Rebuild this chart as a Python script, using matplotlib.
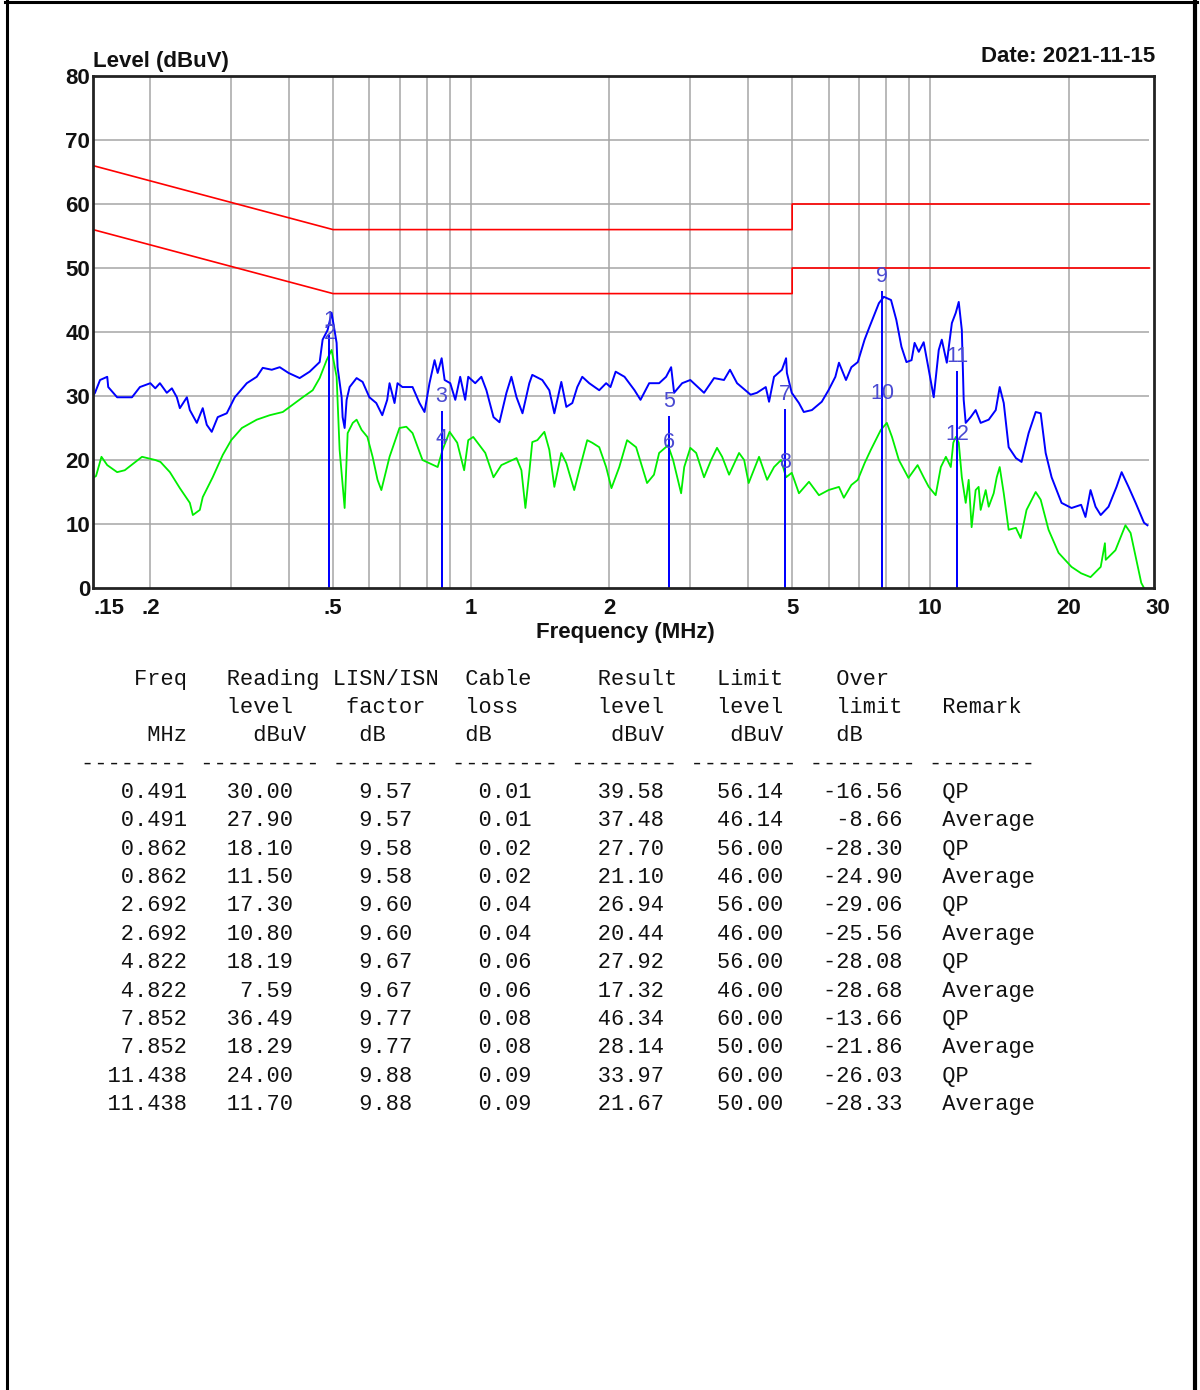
import matplotlib
matplotlib.use("Agg")
import matplotlib.pyplot as plt
from matplotlib.lines import Line2D
from matplotlib.ticker import NullLocator
import matplotlib.transforms as mtrans

# ---------------- data ----------------
peak_freq = [0.150, 0.1515, 0.1554, 0.1611, 0.1619, 0.1693, 0.1824, 0.1898, 0.200, 0.205, 0.2098,
             0.2172, 0.2228, 0.2284, 0.2319, 0.2402, 0.2438, 0.2525, 0.2601, 0.2654, 0.2721,
             0.2804, 0.2934, 0.3054, 0.3244, 0.3410, 0.3514, 0.3677, 0.3827, 0.400, 0.4229,
             0.4446, 0.4675, 0.4745, 0.4865, 0.4964, 0.509, 0.5115, 0.522, 0.5246, 0.5299,
             0.5352, 0.5433, 0.5627, 0.5799, 0.600, 0.621, 0.640, 0.656, 0.6638, 0.6806,
             0.6909, 0.708, 0.745, 0.7714, 0.791, 0.811, 0.832, 0.845, 0.862, 0.875, 0.900,
             0.923, 0.946, 0.970, 0.985, 1.020, 1.052, 1.079, 1.118, 1.152, 1.193, 1.223,
             1.255, 1.293, 1.338, 1.358, 1.428, 1.479, 1.517, 1.571, 1.611, 1.660, 1.702,
             1.745, 1.807, 1.900, 1.967, 2.010, 2.063, 2.157, 2.268, 2.337, 2.441, 2.566,
             2.657, 2.725, 2.766, 2.880, 3.00, 3.214, 3.380, 3.552, 3.661, 3.793, 4.06,
             4.19, 4.38, 4.453, 4.566, 4.75, 4.85, 4.87, 4.99, 5.173, 5.30, 5.52, 5.80,
             6.00, 6.21, 6.323, 6.55, 6.73, 6.95, 7.19, 7.37, 7.725, 7.92, 8.21, 8.43,
             8.65, 8.87, 9.10, 9.24, 9.436, 9.67, 9.92, 10.17, 10.43, 10.59, 10.86, 11.14,
             11.36, 11.53, 11.71, 11.82, 11.94, 12.24, 12.55, 12.87, 13.40, 13.88, 14.16,
             14.45, 14.81, 15.36, 15.80, 16.37, 16.96, 17.39, 17.83, 18.37, 19.31, 20.3,
             21.3, 21.77, 22.33, 22.9, 23.5, 24.44, 25.44, 26.1, 27.02, 28.0, 29.2, 29.7]
peak_level = [30.0, 30.5, 32.5, 33.0, 31.4, 29.8, 29.8, 31.4, 32.0, 31.2, 32.0,
              30.5, 31.2, 29.8, 28.1, 29.8, 27.8, 25.8, 28.1, 25.5, 24.4,
              26.7, 27.3, 29.8, 32.0, 33.0, 34.4, 34.1, 34.5, 33.6, 32.8,
              33.8, 35.3, 38.8, 40.3, 43.0, 38.3, 34.5, 29.8, 26.7, 25.0,
              29.4, 31.4, 32.8, 32.2, 29.8, 28.9, 27.0, 29.4, 32.0, 28.9,
              32.0, 31.4, 31.4, 28.9, 27.5, 32.0, 35.6, 33.6, 35.9, 32.5, 32.0,
              29.4, 33.0, 29.4, 33.0, 32.0, 33.0, 30.9, 26.7, 25.9, 30.5, 33.0,
              29.8, 27.3, 32.0, 33.3, 32.5, 30.9, 27.3, 32.2, 28.3, 28.9, 31.4,
              33.0, 32.0, 30.9, 32.0, 31.4, 33.8, 33.0, 30.9, 29.4, 32.0, 32.0,
              33.0, 34.5, 30.5, 32.0, 32.5, 30.5, 32.8, 32.5, 34.1, 32.0, 30.2,
              30.5, 31.4, 29.1, 33.0, 34.1, 35.9, 33.6, 30.5, 28.9, 27.5, 27.8, 29.1,
              30.9, 33.0, 35.2, 32.5, 34.5, 35.3, 38.8, 40.8, 44.5, 45.5, 45.0, 41.9,
              37.7, 35.3, 35.6, 38.3, 36.9, 38.4, 34.1, 29.8, 37.2, 38.8, 35.2, 41.4,
              43.0, 44.7, 40.3, 29.4, 25.8, 26.7, 27.8, 25.8, 26.3, 27.8, 31.4,
              28.9, 22.0, 20.3, 19.7, 24.2, 27.5, 27.3, 21.1, 17.3, 13.3, 12.5,
              13.0, 11.1, 15.3, 12.7, 11.4, 12.7, 15.8, 18.1, 15.8, 13.3, 10.2, 9.8]

avg_freq = [0.150, 0.1523, 0.1565, 0.1611, 0.1693, 0.1759, 0.1918, 0.2050, 0.2104, 0.2206,
            0.2319, 0.2438, 0.2475, 0.2563, 0.2601, 0.2734, 0.2876, 0.300, 0.3165, 0.341,
            0.364, 0.3886, 0.4075, 0.4295, 0.4515, 0.4675, 0.4842, 0.4964, 0.509, 0.5167,
            0.5299, 0.538, 0.552, 0.5627, 0.577, 0.594, 0.6097, 0.625, 0.637, 0.6638,
            0.6976, 0.722, 0.745, 0.783, 0.811, 0.845, 0.866, 0.897, 0.932, 0.965, 0.985,
            1.010, 1.073, 1.118, 1.163, 1.255, 1.286, 1.312, 1.338, 1.358, 1.393, 1.443,
            1.479, 1.517, 1.571, 1.611, 1.676, 1.719, 1.789, 1.834, 1.900, 1.967, 2.020,
            2.101, 2.185, 2.286, 2.415, 2.50, 2.566, 2.683, 2.752, 2.865, 2.91, 3.00,
            3.09, 3.214, 3.33, 3.43, 3.52, 3.644, 3.831, 3.93, 4.02, 4.235, 4.41, 4.566,
            4.73, 4.85, 4.99, 5.173, 5.44, 5.719, 6.00, 6.323, 6.48, 6.73, 6.95, 7.19,
            7.42, 7.80, 8.04, 8.25, 8.539, 8.96, 9.38, 9.67, 9.92, 10.27, 10.54, 10.81,
            11.08, 11.22, 11.36, 11.53, 11.71, 11.94, 12.12, 12.30, 12.55, 12.74, 12.87,
            13.2, 13.40, 13.74, 13.95, 14.16, 14.45, 14.81, 15.36, 15.73, 16.2, 16.96,
            17.39, 18.09, 19.02, 20.3, 21.3, 22.33, 23.5, 24.0, 24.1, 25.3, 26.6, 27.3,
            28.1, 28.8, 29.2]
avg_level = [17.2, 17.5, 20.5, 19.2, 18.1, 18.4, 20.5, 20.0, 19.7, 18.1,
             15.6, 13.3, 11.4, 12.2, 14.2, 17.3, 20.8, 23.1, 25.0, 26.3,
             27.0, 27.5, 28.6, 29.8, 30.9, 32.8, 35.6, 37.2, 33.0, 21.6,
             12.5, 24.2, 25.8, 26.3, 24.7, 23.6, 20.5, 16.9, 15.3, 20.5,
             25.0, 25.2, 24.2, 20.0, 19.5, 18.9, 21.6, 24.4, 22.7, 18.4, 23.1,
             23.6, 21.1, 17.3, 19.2, 20.3, 18.4, 12.5, 18.1, 22.8, 23.1, 24.4,
             21.6, 15.8, 21.1, 19.5, 15.3, 18.4, 23.1, 22.7, 22.0, 18.9, 15.6,
             18.9, 23.1, 22.0, 16.4, 17.7, 21.1, 22.3, 20.0, 14.8, 18.9, 21.9,
             21.1, 17.3, 20.0, 21.9, 20.5, 17.7, 21.1, 20.0, 16.4, 20.5, 16.9, 18.9,
             20.0, 17.3, 18.0, 14.8, 16.6, 14.5, 15.3, 15.8, 14.1, 16.1, 16.9, 19.5,
             21.6, 24.7, 25.8, 23.6, 20.0, 17.2, 19.2, 17.3, 15.8, 14.5, 18.9, 20.5,
             18.9, 22.7, 23.6, 22.7, 17.3, 13.3, 16.9, 9.5, 15.3, 15.8, 12.2,
             15.3, 12.7, 14.8, 17.3, 18.9, 14.8, 9.1, 9.4, 7.8, 12.2, 15.0,
             13.8, 9.1, 5.5, 3.3, 2.3, 1.7, 3.3, 7.0, 4.4, 5.9, 9.8, 8.6,
             4.4, 0.8, 0.0]

qp_limit_freq = [0.15, 0.5, 0.5, 5.0, 5.0, 30.0]
qp_limit_level = [66.0, 56.0, 56.0, 56.0, 60.0, 60.0]
av_limit_freq = [0.15, 0.5, 0.5, 5.0, 5.0, 30.0]
av_limit_level = [56.0, 46.0, 46.0, 46.0, 50.0, 50.0]

tbl_freq = [0.491, 0.491, 0.862, 0.862, 2.692, 2.692, 4.822, 4.822, 7.852, 7.852, 11.438, 11.438]
tbl_reading = [30.00, 27.90, 18.10, 11.50, 17.30, 10.80, 18.19, 7.59, 36.49, 18.29, 24.00, 11.70]
tbl_lisn = [9.57, 9.57, 9.58, 9.58, 9.60, 9.60, 9.67, 9.67, 9.77, 9.77, 9.88, 9.88]
tbl_cable = [0.01, 0.01, 0.02, 0.02, 0.04, 0.04, 0.06, 0.06, 0.08, 0.08, 0.09, 0.09]
tbl_result = [39.58, 37.48, 27.70, 21.10, 26.94, 20.44, 27.92, 17.32, 46.34, 28.14, 33.97, 21.67]
tbl_limit = [56.14, 46.14, 56.00, 46.00, 56.00, 46.00, 56.00, 46.00, 60.00, 50.00, 60.00, 50.00]
tbl_over = [-16.56, -8.66, -28.30, -24.90, -29.06, -25.56, -28.08, -28.68, -13.66, -21.86, -26.03, -28.33]
tbl_remark = ["QP", "Average", "QP", "Average", "QP", "Average",
              "QP", "Average", "QP", "Average", "QP", "Average"]

x_ticks = [0.15, 0.2, 0.5, 1, 2, 5, 10, 20, 30]
x_ticklabels = [".15", ".2", ".5", "1", "2", "5", "10", "20", "30"]
y_ticks = [0, 10, 20, 30, 40, 50, 60, 70, 80]
grid_freqs = [0.2, 0.3, 0.4, 0.5, 0.6, 0.7, 0.8, 0.9, 1, 2, 3, 4, 5, 6, 7, 8, 9, 10, 20]

# ---------------- figure ----------------
W, H = 1200, 1390
fig = plt.figure(figsize=(W / 100, H / 100), dpi=100)
fig.patch.set_facecolor("white")


def fx(px):
    return px / W


def fy(py):
    return 1 - py / H


SANS = ["Liberation Sans", "DejaVu Sans"]
MONO = ["Liberation Mono", "DejaVu Sans Mono"]

ax = fig.add_axes([fx(93), fy(588), fx(1154) - fx(93), fy(76) - fy(588)])
ax.set_xscale("log")
ax.set_xlim(0.15, 30.7)
ax.set_ylim(0, 80)
ax.xaxis.set_minor_locator(NullLocator())

grid_c = "#a6a6a6"
ax.vlines(grid_freqs, 0, 80, colors=grid_c, lw=1.1, zorder=1)
ax.hlines(y_ticks[1:-1], 0.15, 30, colors=grid_c, lw=1.1, zorder=1)

ax.plot(qp_limit_freq, qp_limit_level, color="#ff0000", lw=1.2, zorder=2)
ax.plot(av_limit_freq, av_limit_level, color="#ff0000", lw=1.2, zorder=2)

ax.plot(avg_freq, avg_level, color="#00ee00", lw=1.3, zorder=3)
ax.plot(peak_freq, peak_level, color="#0000ff", lw=1.4, zorder=4)

for i, (f, r) in enumerate(zip(tbl_freq, tbl_result)):
    ax.vlines(f, 0, r, colors="#0000ff", lw=1.4, zorder=5)
    ax.annotate(str(i + 1), (f, r), xytext=(0, 10.5), textcoords="offset points",
                ha="center", va="center", fontsize=15.5, color="#4a4ad2",
                family=SANS, zorder=6)

for s in ax.spines.values():
    s.set_linewidth(2.0)
    s.set_color("#222222")
    s.set_zorder(7)

ax.set_xticks(x_ticks)
ax.set_xticklabels(x_ticklabels)
ax.set_yticks(y_ticks)
ax.set_yticklabels([str(v) for v in y_ticks])
ax.tick_params(length=0, labelsize=16)
ax.tick_params(axis="x", pad=7)
ax.tick_params(axis="y", pad=2)
for lab in ax.get_xticklabels() + ax.get_yticklabels():
    lab.set_fontfamily(SANS)
    lab.set_fontweight("bold")
    lab.set_color("#111111")
xl = ax.get_xticklabels()
xl[0].set_ha("left")
xl[-1].set_transform(xl[-1].get_transform() +
                     mtrans.ScaledTranslation(8 / 100, 0, fig.dpi_scale_trans))

fig.text(fx(93), fy(61), "Level (dBuV)", ha="left", va="center", fontsize=16,
         fontweight="bold", family=SANS, color="#111111")
fig.text(fx(1155), fy(57), "Date: 2021-11-15", ha="right", va="center", fontsize=16,
         fontweight="bold", family=SANS, color="#111111")
fig.text(fx(625), fy(633), "Frequency (MHz)", ha="center", va="center", fontsize=16,
         fontweight="bold", family=SANS, color="#111111")

# page border
bc = "#000000"
fig.add_artist(Line2D([fx(6.5), fx(6.5)], [fy(0), fy(H)], color=bc, lw=2.2,
                      transform=fig.transFigure))
fig.add_artist(Line2D([fx(1194.5), fx(1194.5)], [fy(0), fy(H)], color=bc, lw=3.0,
                      transform=fig.transFigure))
fig.add_artist(Line2D([fx(5), fx(1197)], [fy(1.5), fy(1.5)], color=bc, lw=2.2,
                      transform=fig.transFigure))

# ---------------- table ----------------
header = [
    "    Freq   Reading LISN/ISN  Cable     Result   Limit    Over",
    "           level    factor   loss      level    level    limit   Remark",
    "     MHz     dBuV    dB      dB         dBuV     dBuV    dB",
    "-------- --------- -------- -------- -------- -------- -------- --------",
]
rows = []
for f, rd, ls, cb, rs, lm, ov, rk in zip(tbl_freq, tbl_reading, tbl_lisn, tbl_cable,
                                          tbl_result, tbl_limit, tbl_over, tbl_remark):
    rows.append(f"{f:8.3f}{rd:8.2f}{ls:9.2f}{cb:9.2f}{rs:10.2f}{lm:9.2f}{ov:9.2f}   {rk}")

lines = header + rows
base0 = 684.6
step = 28.36
for k, line in enumerate(lines):
    fig.text(fx(81), fy(base0 + k * step), line, ha="left", va="baseline",
             fontsize=15.8, family=MONO, color="#111111")

fig.savefig("out.png", dpi=100, facecolor="white")
